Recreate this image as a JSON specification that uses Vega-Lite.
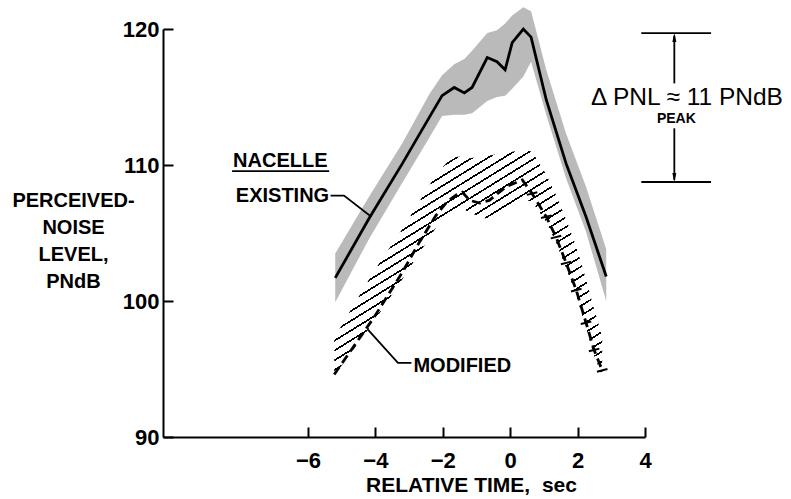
{
  "$schema": "https://vega.github.io/schema/vega-lite/v6.json",
  "width": 482,
  "height": 408,
  "autosize": {"type": "none"},
  "padding": {"left": 163, "top": 29, "right": 146, "bottom": 62},
  "background": "white",
  "config": {
    "view": {"stroke": null},
    "font": "Liberation Sans",
    "axis": {
      "domainColor": "#000", "domainWidth": 2, "tickColor": "#000", "tickWidth": 2, "tickSize": -10,
      "grid": false, "labelColor": "#000", "labelFont": "Liberation Sans", "labelFontWeight": "bold",
      "labelFontSize": 22, "labelFlush": false, "labelOverlap": false,
      "titleColor": "#000", "titleFont": "Liberation Sans", "titleFontWeight": "bold", "titleFontSize": 21
    }
  },
  "datasets": {
    "existing": [
      {"x": -5.19, "y": 101.7, "lo": 99.9, "hi": 103.5},
      {"x": -4.18, "y": 106.1, "lo": 104.6, "hi": 107.7},
      {"x": -3.2, "y": 110.1, "lo": 108.7, "hi": 111.6},
      {"x": -2.4, "y": 113.5, "lo": 112.0, "hi": 115.2},
      {"x": -2.02, "y": 115.1, "lo": 113.6, "hi": 116.6},
      {"x": -1.66, "y": 115.7, "lo": 113.7, "hi": 117.4},
      {"x": -1.36, "y": 115.3, "lo": 113.7, "hi": 117.8},
      {"x": -1.13, "y": 115.7, "lo": 113.8, "hi": 118.4},
      {"x": -0.68, "y": 117.9, "lo": 114.7, "hi": 119.7},
      {"x": -0.39, "y": 117.6, "lo": 115.0, "hi": 119.9},
      {"x": -0.15, "y": 117.0, "lo": 115.1, "hi": 120.4},
      {"x": 0.06, "y": 119.0, "lo": 115.6, "hi": 121.0},
      {"x": 0.39, "y": 120.0, "lo": 116.5, "hi": 121.6},
      {"x": 0.62, "y": 119.4, "lo": 117.6, "hi": 121.3},
      {"x": 1.07, "y": 114.8, "lo": 113.7, "hi": 117.0},
      {"x": 1.66, "y": 110.1, "lo": 109.0, "hi": 112.3},
      {"x": 2.25, "y": 106.2, "lo": 105.1, "hi": 108.4},
      {"x": 2.85, "y": 101.8, "lo": 100.0, "hi": 103.8}
    ],
    "modified": [
      {"x": -5.22, "y": 94.6, "lo": 94.5, "hi": 97.3},
      {"x": -4.04, "y": 98.8, "lo": 98.5, "hi": 102.2},
      {"x": -3.2, "y": 102.1, "lo": 101.6, "hi": 105.3},
      {"x": -2.7, "y": 104.3, "lo": 103.5, "hi": 107.3},
      {"x": -2.2, "y": 106.3, "lo": 105.4, "hi": 109.3},
      {"x": -1.87, "y": 107.3, "lo": 106.3, "hi": 110.2},
      {"x": -1.6, "y": 107.8, "lo": 106.8, "hi": 110.6},
      {"x": -1.42, "y": 108.0, "lo": 106.8, "hi": 110.6},
      {"x": -1.2, "y": 107.4, "lo": 106.5, "hi": 110.5},
      {"x": -0.9, "y": 107.2, "lo": 106.2, "hi": 110.6},
      {"x": -0.62, "y": 107.4, "lo": 106.0, "hi": 110.7},
      {"x": -0.12, "y": 108.4, "lo": 106.6, "hi": 110.9},
      {"x": 0.36, "y": 108.9, "lo": 107.5, "hi": 111.1},
      {"x": 0.65, "y": 107.9, "lo": 107.3, "hi": 111.0},
      {"x": 1.07, "y": 106.2, "lo": 105.8, "hi": 109.3},
      {"x": 1.36, "y": 104.7, "lo": 104.3, "hi": 107.8},
      {"x": 1.66, "y": 102.8, "lo": 102.4, "hi": 106.0},
      {"x": 1.96, "y": 100.8, "lo": 100.4, "hi": 104.0},
      {"x": 2.25, "y": 98.4, "lo": 98.0, "hi": 101.6},
      {"x": 2.49, "y": 96.4, "lo": 96.0, "hi": 99.4},
      {"x": 2.73, "y": 94.9, "lo": 94.5, "hi": 97.4}
    ],
    "leaders": [
      {"seg": "existing", "x": -5.33, "y": 107.75},
      {"seg": "existing", "x": -4.93, "y": 107.75},
      {"seg": "existing", "x": -4.12, "y": 106.2},
      {"seg": "modified", "x": -4.22, "y": 97.9},
      {"seg": "modified", "x": -3.33, "y": 95.45},
      {"seg": "modified", "x": -2.93, "y": 95.45},
      {"seg": "underline", "x": -8.25, "y": 109.55},
      {"seg": "underline", "x": -5.37, "y": 109.55},
      {"seg": "peakTop", "x": 3.89, "y": 119.7},
      {"seg": "peakTop", "x": 5.96, "y": 119.7},
      {"seg": "peakBottom", "x": 3.89, "y": 108.75},
      {"seg": "peakBottom", "x": 5.96, "y": 108.75},
      {"seg": "arrowUp", "x": 4.87, "y": 119.5},
      {"seg": "arrowUp", "x": 4.87, "y": 116.0},
      {"seg": "arrowDown", "x": 4.87, "y": 112.7},
      {"seg": "arrowDown", "x": 4.87, "y": 108.9}
    ],
    "arrows": [
      {"end": "top", "x": 4.87, "y": 119.37},
      {"end": "bottom", "x": 4.87, "y": 109.08}
    ],
    "labels": [
      {"label": "NACELLE", "x": -6.82, "y": 109.85},
      {"label": "EXISTING", "x": -5.37, "y": 107.28},
      {"label": "MODIFIED", "x": -2.87, "y": 94.78},
      {"label": "Δ PNL ≈ 11 PNdB", "x": 2.4, "y": 114.4},
      {"label": "PEAK", "x": 4.93, "y": 113.1}
    ]
  },
  "encoding": {
    "x": {
      "field": "x", "type": "quantitative",
      "scale": {"domain": [-10.3, 4], "nice": false, "zero": false},
      "axis": {
        "values": [-6, -4, -2, 0, 2, 4], "labelPadding": 23,
        "title": "RELATIVE TIME,\u00a0 sec", "titleX": 308, "titleY": 54,
        "titleAlign": "center", "titleBaseline": "alphabetic"
      }
    },
    "y": {
      "field": "y", "type": "quantitative",
      "scale": {"domain": [90, 120], "nice": false, "zero": false},
      "axis": {
        "values": [90, 100, 110, 120], "labelPadding": 14,
        "title": ["PERCEIVED-", "NOISE", "LEVEL,", "PNdB"], "titleAngle": 0,
        "titleX": -90, "titleY": 161, "titleAlign": "center", "titleBaseline": "top",
        "titleLineHeight": 27, "titleFontSize": 20
      }
    }
  },
  "layer": [
    {
      "data": {"name": "existing"},
      "mark": {"type": "area", "color": "#bababa"},
      "encoding": {
        "y": {"field": "lo", "type": "quantitative", "scale": {"domain": [90, 120], "nice": false, "zero": false}},
        "y2": {"field": "hi"}
      }
    },
    {
      "data": {"name": "modified"},
      "mark": {
        "type": "area",
        "color": {
          "gradient": "linear", "x1": 0, "y1": 0, "x2": 0.827, "y2": 1.127,
          "stops": [
            {"offset": 0.01, "color": "#fff"}, {"offset": 0.01, "color": "#000"}, {"offset": 0.015, "color": "#000"}, {"offset": 0.015, "color": "#fff"},
            {"offset": 0.035, "color": "#fff"}, {"offset": 0.035, "color": "#000"}, {"offset": 0.04, "color": "#000"}, {"offset": 0.04, "color": "#fff"},
            {"offset": 0.06, "color": "#fff"}, {"offset": 0.06, "color": "#000"}, {"offset": 0.065, "color": "#000"}, {"offset": 0.065, "color": "#fff"},
            {"offset": 0.085, "color": "#fff"}, {"offset": 0.085, "color": "#000"}, {"offset": 0.09, "color": "#000"}, {"offset": 0.09, "color": "#fff"},
            {"offset": 0.11, "color": "#fff"}, {"offset": 0.11, "color": "#000"}, {"offset": 0.115, "color": "#000"}, {"offset": 0.115, "color": "#fff"},
            {"offset": 0.135, "color": "#fff"}, {"offset": 0.135, "color": "#000"}, {"offset": 0.14, "color": "#000"}, {"offset": 0.14, "color": "#fff"},
            {"offset": 0.16, "color": "#fff"}, {"offset": 0.16, "color": "#000"}, {"offset": 0.165, "color": "#000"}, {"offset": 0.165, "color": "#fff"},
            {"offset": 0.185, "color": "#fff"}, {"offset": 0.185, "color": "#000"}, {"offset": 0.19, "color": "#000"}, {"offset": 0.19, "color": "#fff"},
            {"offset": 0.21, "color": "#fff"}, {"offset": 0.21, "color": "#000"}, {"offset": 0.215, "color": "#000"}, {"offset": 0.215, "color": "#fff"},
            {"offset": 0.235, "color": "#fff"}, {"offset": 0.235, "color": "#000"}, {"offset": 0.24, "color": "#000"}, {"offset": 0.24, "color": "#fff"},
            {"offset": 0.26, "color": "#fff"}, {"offset": 0.26, "color": "#000"}, {"offset": 0.265, "color": "#000"}, {"offset": 0.265, "color": "#fff"},
            {"offset": 0.285, "color": "#fff"}, {"offset": 0.285, "color": "#000"}, {"offset": 0.29, "color": "#000"}, {"offset": 0.29, "color": "#fff"},
            {"offset": 0.31, "color": "#fff"}, {"offset": 0.31, "color": "#000"}, {"offset": 0.315, "color": "#000"}, {"offset": 0.315, "color": "#fff"},
            {"offset": 0.335, "color": "#fff"}, {"offset": 0.335, "color": "#000"}, {"offset": 0.34, "color": "#000"}, {"offset": 0.34, "color": "#fff"},
            {"offset": 0.36, "color": "#fff"}, {"offset": 0.36, "color": "#000"}, {"offset": 0.365, "color": "#000"}, {"offset": 0.365, "color": "#fff"},
            {"offset": 0.385, "color": "#fff"}, {"offset": 0.385, "color": "#000"}, {"offset": 0.39, "color": "#000"}, {"offset": 0.39, "color": "#fff"},
            {"offset": 0.41, "color": "#fff"}, {"offset": 0.41, "color": "#000"}, {"offset": 0.415, "color": "#000"}, {"offset": 0.415, "color": "#fff"},
            {"offset": 0.435, "color": "#fff"}, {"offset": 0.435, "color": "#000"}, {"offset": 0.44, "color": "#000"}, {"offset": 0.44, "color": "#fff"},
            {"offset": 0.46, "color": "#fff"}, {"offset": 0.46, "color": "#000"}, {"offset": 0.465, "color": "#000"}, {"offset": 0.465, "color": "#fff"},
            {"offset": 0.485, "color": "#fff"}, {"offset": 0.485, "color": "#000"}, {"offset": 0.49, "color": "#000"}, {"offset": 0.49, "color": "#fff"},
            {"offset": 0.51, "color": "#fff"}, {"offset": 0.51, "color": "#000"}, {"offset": 0.515, "color": "#000"}, {"offset": 0.515, "color": "#fff"},
            {"offset": 0.535, "color": "#fff"}, {"offset": 0.535, "color": "#000"}, {"offset": 0.54, "color": "#000"}, {"offset": 0.54, "color": "#fff"},
            {"offset": 0.56, "color": "#fff"}, {"offset": 0.56, "color": "#000"}, {"offset": 0.565, "color": "#000"}, {"offset": 0.565, "color": "#fff"},
            {"offset": 0.585, "color": "#fff"}, {"offset": 0.585, "color": "#000"}, {"offset": 0.59, "color": "#000"}, {"offset": 0.59, "color": "#fff"},
            {"offset": 0.61, "color": "#fff"}, {"offset": 0.61, "color": "#000"}, {"offset": 0.615, "color": "#000"}, {"offset": 0.615, "color": "#fff"},
            {"offset": 0.635, "color": "#fff"}, {"offset": 0.635, "color": "#000"}, {"offset": 0.64, "color": "#000"}, {"offset": 0.64, "color": "#fff"},
            {"offset": 0.66, "color": "#fff"}, {"offset": 0.66, "color": "#000"}, {"offset": 0.665, "color": "#000"}, {"offset": 0.665, "color": "#fff"},
            {"offset": 0.685, "color": "#fff"}, {"offset": 0.685, "color": "#000"}, {"offset": 0.69, "color": "#000"}, {"offset": 0.69, "color": "#fff"},
            {"offset": 0.71, "color": "#fff"}, {"offset": 0.71, "color": "#000"}, {"offset": 0.715, "color": "#000"}, {"offset": 0.715, "color": "#fff"},
            {"offset": 0.735, "color": "#fff"}, {"offset": 0.735, "color": "#000"}, {"offset": 0.74, "color": "#000"}, {"offset": 0.74, "color": "#fff"},
            {"offset": 0.76, "color": "#fff"}, {"offset": 0.76, "color": "#000"}, {"offset": 0.765, "color": "#000"}, {"offset": 0.765, "color": "#fff"},
            {"offset": 0.785, "color": "#fff"}, {"offset": 0.785, "color": "#000"}, {"offset": 0.79, "color": "#000"}, {"offset": 0.79, "color": "#fff"},
            {"offset": 0.81, "color": "#fff"}, {"offset": 0.81, "color": "#000"}, {"offset": 0.815, "color": "#000"}, {"offset": 0.815, "color": "#fff"},
            {"offset": 0.835, "color": "#fff"}, {"offset": 0.835, "color": "#000"}, {"offset": 0.84, "color": "#000"}, {"offset": 0.84, "color": "#fff"},
            {"offset": 0.86, "color": "#fff"}, {"offset": 0.86, "color": "#000"}, {"offset": 0.865, "color": "#000"}, {"offset": 0.865, "color": "#fff"},
            {"offset": 0.885, "color": "#fff"}, {"offset": 0.885, "color": "#000"}, {"offset": 0.89, "color": "#000"}, {"offset": 0.89, "color": "#fff"},
            {"offset": 0.91, "color": "#fff"}, {"offset": 0.91, "color": "#000"}, {"offset": 0.915, "color": "#000"}, {"offset": 0.915, "color": "#fff"},
            {"offset": 0.935, "color": "#fff"}, {"offset": 0.935, "color": "#000"}, {"offset": 0.94, "color": "#000"}, {"offset": 0.94, "color": "#fff"},
            {"offset": 0.96, "color": "#fff"}, {"offset": 0.96, "color": "#000"}, {"offset": 0.965, "color": "#000"}, {"offset": 0.965, "color": "#fff"},
            {"offset": 0.985, "color": "#fff"}, {"offset": 0.985, "color": "#000"}, {"offset": 0.99, "color": "#000"}, {"offset": 0.99, "color": "#fff"}
          ]
        }
      },
      "encoding": {
        "y": {"field": "lo", "type": "quantitative", "scale": {"domain": [90, 120], "nice": false, "zero": false}},
        "y2": {"field": "hi"}
      }
    },
    {
      "data": {"name": "existing"},
      "mark": {"type": "line", "color": "#000", "strokeWidth": 2.8},
      "encoding": {}
    },
    {
      "data": {"name": "modified"},
      "mark": {"type": "line", "color": "#000", "strokeWidth": 2.8, "strokeDash": [9, 5]},
      "encoding": {}
    },
    {
      "data": {"name": "modified"},
      "transform": [{"filter": "datum.x > 0.5"}],
      "mark": {"type": "point", "shape": "M -1 0.25 L 1 -0.25", "size": 110, "filled": false, "stroke": "#000", "strokeWidth": 2, "opacity": 1},
      "encoding": {}
    },
    {
      "data": {"name": "leaders"},
      "mark": {"type": "line", "color": "#000", "strokeWidth": 1.8},
      "encoding": {"detail": {"field": "seg"}}
    },
    {
      "data": {"name": "arrows"},
      "transform": [{"filter": "datum.end == 'top'"}],
      "mark": {"type": "point", "shape": "M0,-1L0.45,1L-0.45,1Z", "size": 80, "filled": true, "color": "#000", "opacity": 1},
      "encoding": {}
    },
    {
      "data": {"name": "arrows"},
      "transform": [{"filter": "datum.end == 'bottom'"}],
      "mark": {"type": "point", "shape": "M0,1L0.45,-1L-0.45,-1Z", "size": 80, "filled": true, "color": "#000", "opacity": 1},
      "encoding": {}
    },
    {
      "data": {"name": "labels"},
      "transform": [{"filter": "datum.label == 'NACELLE'"}],
      "mark": {"type": "text", "align": "center", "baseline": "alphabetic", "font": "Liberation Sans", "fontWeight": "bold", "fontSize": 20, "color": "#000"},
      "encoding": {"text": {"field": "label"}}
    },
    {
      "data": {"name": "labels"},
      "transform": [{"filter": "datum.label == 'EXISTING'"}],
      "mark": {"type": "text", "align": "right", "baseline": "alphabetic", "font": "Liberation Sans", "fontWeight": "bold", "fontSize": 20, "color": "#000"},
      "encoding": {"text": {"field": "label"}}
    },
    {
      "data": {"name": "labels"},
      "transform": [{"filter": "datum.label == 'MODIFIED'"}],
      "mark": {"type": "text", "align": "left", "baseline": "alphabetic", "font": "Liberation Sans", "fontWeight": "bold", "fontSize": 20, "color": "#000"},
      "encoding": {"text": {"field": "label"}}
    },
    {
      "data": {"name": "labels"},
      "transform": [{"filter": "datum.label == 'PEAK'"}],
      "mark": {"type": "text", "align": "center", "baseline": "alphabetic", "font": "Liberation Sans", "fontWeight": "bold", "fontSize": 14, "color": "#000"},
      "encoding": {"text": {"field": "label"}}
    },
    {
      "data": {"name": "labels"},
      "transform": [{"filter": "indexof(datum.label, 'PNL') >= 0"}],
      "mark": {"type": "text", "align": "left", "baseline": "alphabetic", "font": "Liberation Sans", "fontWeight": "normal", "fontSize": 24.5, "color": "#000"},
      "encoding": {"text": {"field": "label"}}
    }
  ]
}
